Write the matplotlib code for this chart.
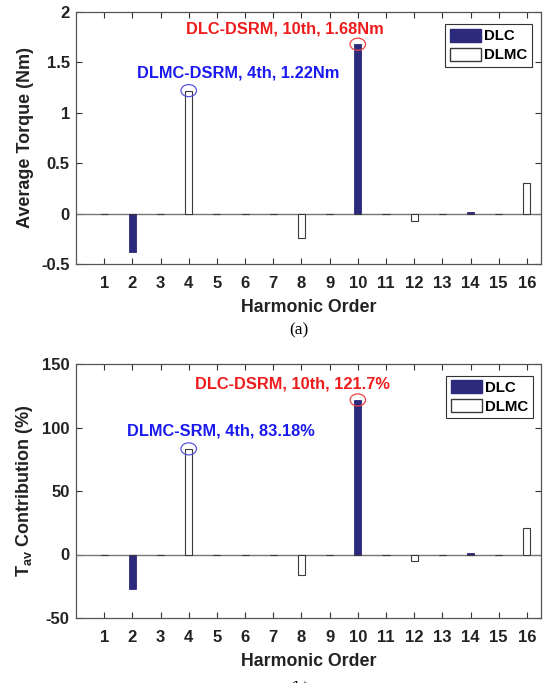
import matplotlib
matplotlib.use("Agg")
import matplotlib.pyplot as plt
from matplotlib.patches import Ellipse, Patch

plt.rcParams['font.family'] = ['Liberation Sans', 'DejaVu Sans']
plt.rcParams['mathtext.fontset'] = 'custom'
plt.rcParams['mathtext.bf'] = 'Liberation Sans:bold'
plt.rcParams['mathtext.rm'] = 'Liberation Sans:bold'

harmonics = list(range(1, 17))
torque_dlc = [0, -0.38, 0, 0, 0, 0, 0, 0, 0, 1.68, 0, 0, 0, 0.02, 0, 0]
torque_dlmc = [0, 0, 0, 1.22, 0, 0, 0, -0.24, 0, 0, 0, -0.07, 0, 0, 0, 0.30]
contrib_dlc = [0, -27.5, 0, 0, 0, 0, 0, 0, 0, 121.7, 0, 0, 0, 1.5, 0, 0]
contrib_dlmc = [0, 0, 0, 83.18, 0, 0, 0, -16.5, 0, 0, 0, -5.0, 0, 0, 0, 20.5]
series_names = ['DLC', 'DLMC']

navy = '#2c2a7c'
edge_gray = '#3a3a3a'
axis_col = '#555555'

W, H = 549, 683
fig = plt.figure(figsize=(W/100, H/100), dpi=100)
ax1 = fig.add_axes([76/W, 1-264/H, 465/W, 252/H])
ax2 = fig.add_axes([76/W, 1-618/H, 465/W, 254/H])


def draw(ax, dlc, dlmc, ylim, yticks, yticklabels, ylabel, leg_anchor):
    ax.bar(harmonics, dlc, width=0.25, color=navy, edgecolor=navy, linewidth=0.6, zorder=3)
    ax.bar(harmonics, dlmc, width=0.25, color='white', edgecolor=edge_gray, linewidth=0.8, zorder=3)
    ax.axhline(0, color='#777777', linewidth=1.0, zorder=2)
    ax.set_xlim(0, 16.5)
    ax.set_ylim(*ylim)
    ax.set_xticks(harmonics)
    ax.set_xticklabels([str(h) for h in harmonics])
    ax.set_yticks(yticks)
    ax.set_yticklabels(yticklabels)
    ax.tick_params(direction='in', top=True, right=True, length=4, width=0.8,
                   colors='#333333', labelsize=12)
    ax.tick_params(axis='x', pad=8.5)
    ax.tick_params(axis='y', pad=4.5)
    for lbl in ax.get_xticklabels() + ax.get_yticklabels():
        lbl.set_fontweight('bold')
        lbl.set_color('#222222')
    for s in ax.spines.values():
        s.set_color(axis_col)
        s.set_linewidth(0.9)
    ax.set_xlabel('Harmonic Order', fontsize=12.8, fontweight='bold', color='#222222', labelpad=6)
    ax.set_ylabel(ylabel, fontsize=13, fontweight='bold', color='#222222', labelpad=5)
    handles = [Patch(facecolor=navy, edgecolor=navy), Patch(facecolor='white', edgecolor=edge_gray)]
    leg = ax.legend(handles, series_names, loc='upper right', bbox_to_anchor=leg_anchor,
                    fancybox=False, framealpha=1,
                    edgecolor='#333333', prop={'weight': 'bold', 'size': 10.8},
                    handlelength=2.1, handleheight=0.95, handletextpad=0.2,
                    borderpad=0.3, labelspacing=0.3, borderaxespad=0.0)
    leg.get_frame().set_linewidth(0.8)


draw(ax1, torque_dlc, torque_dlmc, (-0.5, 2), [-0.5, 0, 0.5, 1, 1.5, 2],
     ['-0.5', '0', '0.5', '1', '1.5', '2'], 'Average Torque (Nm)', (0.981, 0.952))
draw(ax2, contrib_dlc, contrib_dlmc, (-50, 150), [-50, 0, 50, 100, 150],
     ['-50', '0', '50', '100', '150'], r'$\mathbf{T_{av}}$ Contribution (%)', (0.983, 0.954))

# annotations (a)
ax1.add_patch(Ellipse((4, torque_dlmc[3]), 0.55, 0.12, fill=False, edgecolor='#5555dd', lw=0.9, zorder=4))
ax1.add_patch(Ellipse((10, torque_dlc[9]), 0.55, 0.12, fill=False, edgecolor='#ee4444', lw=0.9, zorder=4))
ax1.text(5.74, 1.39, 'DLMC-DSRM, 4th, 1.22Nm', color='#1a1aee', fontsize=11.8, fontweight='bold',
         ha='center', va='center')
ax1.text(7.41, 1.83, 'DLC-DSRM, 10th, 1.68Nm', color='#ee1c1c', fontsize=11.8, fontweight='bold',
         ha='center', va='center')

# annotations (b)
ax2.add_patch(Ellipse((4, contrib_dlmc[3]), 0.55, 9.5, fill=False, edgecolor='#5555dd', lw=0.9, zorder=4))
ax2.add_patch(Ellipse((10, contrib_dlc[9]), 0.55, 9.5, fill=False, edgecolor='#ee4444', lw=0.9, zorder=4))
ax2.text(5.13, 97, 'DLMC-SRM, 4th, 83.18%', color='#1a1aee', fontsize=11.8, fontweight='bold',
         ha='center', va='center')
ax2.text(7.68, 134.3, 'DLC-DSRM, 10th, 121.7%', color='#ee1c1c', fontsize=11.8, fontweight='bold',
         ha='center', va='center')

fig.text(299/W, 1-330/H, '(a)', fontsize=12.5, family='Liberation Serif', ha='center', va='center')
fig.text(299/W, 1-688/H, '(b)', fontsize=12.5, family='Liberation Serif', ha='center', va='center')

fig.savefig('out.png', dpi=100)
